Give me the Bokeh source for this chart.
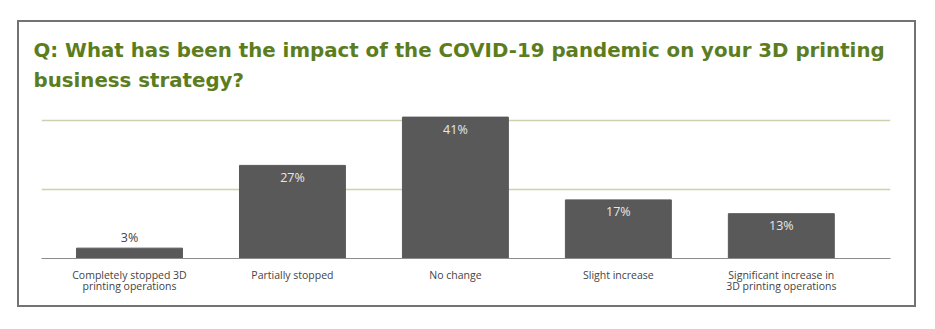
from bokeh.plotting import figure
from bokeh.models import FixedTicker, Range1d, ColumnDataSource
from bokeh.core.properties import value
from bokeh.embed import file_html
from bokeh.resources import INLINE

title_text = "Q: What has been the impact of the COVID-19 pandemic on your 3D printing\nbusiness strategy?"
categories = ["Completely stopped 3D\nprinting operations", "Partially stopped", "No change",
              "Slight increase", "Significant increase in\n3D printing operations"]
values = [3, 27, 41, 17, 13]
labels = ["3%", "27%", "41%", "17%", "13%"]
grid_ticks = [20, 40]

idx = list(range(len(categories)))
inside = [v > 5 for v in values]
src_in = ColumnDataSource(dict(x=[i for i, f in zip(idx, inside) if f],
                               y=[v for v, f in zip(values, inside) if f],
                               t=[l for l, f in zip(labels, inside) if f]))
src_out = ColumnDataSource(dict(x=[i for i, f in zip(idx, inside) if not f],
                                y=[v for v, f in zip(values, inside) if not f],
                                t=[l for l, f in zip(labels, inside) if not f]))

p = figure(width=899, height=287, output_backend="svg", toolbar_location=None,
           x_range=Range1d(-0.54, 4.67), y_range=Range1d(0, 43.5),
           min_border_left=24, min_border_right=26, min_border_bottom=49, min_border_top=88)
p.margin = (20, 0, 0, 17)
p.styles = {"outline": "2px solid #737373", "outline-offset": "-2px",
            "background-color": "white"}

p.title.text = title_text
p.title.text_font = "DejaVu Sans"
p.title.text_font_style = "bold"
p.title.text_font_size = "19.8px"
p.title.text_color = "#5b7d1e"
p.title.text_line_height = 1.32
p.title.offset = -8
p.title.standoff = 32

p.vbar(x=idx, top=values, width=0.65, bottom=0, color="#595959")
p.text(x="x", y="y", text="t", source=src_in, y_offset=12, text_align="center",
       text_baseline="middle", text_color="#e8e8e8", text_font=value("Open Sans"),
       text_font_size="12.5px")
p.text(x="x", y="y", text="t", source=src_out, y_offset=-11, text_align="center",
       text_baseline="middle", text_color="#444444", text_font=value("Open Sans"),
       text_font_size="12.5px")

p.xaxis.ticker = FixedTicker(ticks=idx)
p.xaxis.major_label_overrides = {i: c for i, c in zip(idx, categories)}
p.xaxis.major_label_text_font = "Open Sans"
p.xaxis.major_label_text_font_size = "10.5px"
p.xaxis.major_label_text_color = "#444444"
p.xaxis.major_label_text_line_height = 0.82
p.xaxis.major_label_standoff = 3
p.xaxis.major_tick_line_color = None
p.xaxis.minor_tick_line_color = None
p.xaxis.axis_line_color = "#8c8c8c"
p.xaxis.axis_line_width = 1.2
p.yaxis.visible = False
p.xgrid.grid_line_color = None
p.ygrid.ticker = FixedTicker(ticks=grid_ticks)
p.ygrid.grid_line_color = "#c9d3ad"
p.ygrid.grid_line_width = 1.5
p.outline_line_color = None
p.background_fill_alpha = 0
p.border_fill_alpha = 0

open("out.html", "w").write(file_html(p, INLINE))
